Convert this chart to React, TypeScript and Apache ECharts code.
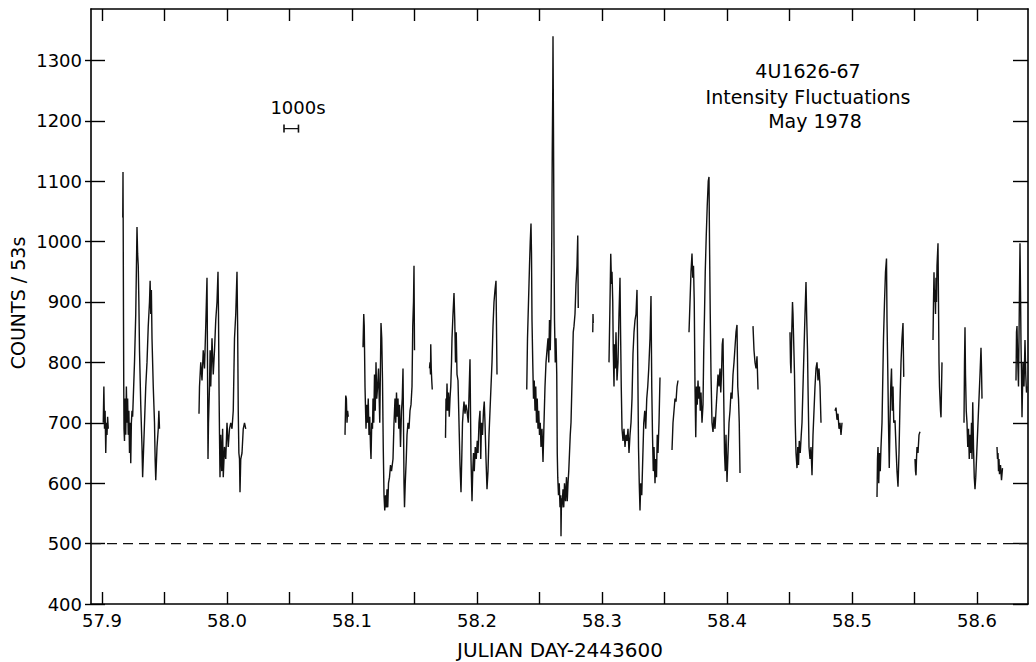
import React, { useEffect, useRef } from "react";
import * as echarts from "echarts";

// Axis extents and ticks
const xMin = 57.8912;
const xMax = 58.6408;
const yMin = 400;
const yMax = 1385;
const xTickValues = [57.9, 57.95, 58.0, 58.05, 58.1, 58.15, 58.2, 58.25, 58.3, 58.35, 58.4, 58.45, 58.5, 58.55, 58.6];
const xLabelValues = [57.9, 58.0, 58.1, 58.2, 58.3, 58.4, 58.5, 58.6];
const yTickValues = [400, 500, 600, 700, 800, 900, 1000, 1100, 1200, 1300];

// Background level (dashed)
const backgroundLevel = 500;

// Scale bar (1000 s)
const scaleBarStart = 58.0456;
const scaleBarSeconds = 1000;
const scaleBarLevel = 1187;

// Light-curve segments [JD-2443600, counts/53s]
const segA = [[57.901, 700], [57.9015, 760], [57.902, 690], [57.9025, 720], [57.903, 650], [57.9035, 700], [57.904, 680], [57.9045, 710], [57.905, 690]];
const segB = [[57.9166, 1040], [57.9168, 1115], [57.917, 1000], [57.9172, 870], [57.9174, 760], [57.9176, 690], [57.918, 670], [57.9185, 740], [57.919, 680], [57.9195, 760], [57.92, 700], [57.9205, 740], [57.921, 680], [57.9215, 720], [57.922, 650], [57.9225, 700], [57.923, 633], [57.9235, 700], [57.924, 720], [57.9245, 710], [57.925, 740], [57.926, 800], [57.927, 880], [57.928, 1024], [57.9285, 980], [57.929, 960], [57.9295, 900], [57.93, 820], [57.931, 730], [57.932, 660], [57.9325, 610], [57.933, 640], [57.934, 700], [57.935, 760], [57.936, 800], [57.937, 860], [57.938, 900], [57.9385, 935], [57.939, 880], [57.9395, 920], [57.94, 840], [57.941, 760], [57.942, 700], [57.9425, 640], [57.943, 605], [57.944, 660], [57.945, 690], [57.9455, 720], [57.946, 690]];
const segC = [[57.9776, 715], [57.978, 760], [57.979, 800], [57.98, 770], [57.981, 820], [57.982, 790], [57.983, 860], [57.9835, 900], [57.984, 940], [57.9842, 880], [57.9845, 760], [57.9848, 640], [57.9852, 700], [57.986, 760], [57.9865, 820], [57.987, 760], [57.988, 840], [57.989, 780], [57.99, 820], [57.991, 870], [57.992, 900], [57.9928, 950], [57.9932, 880], [57.9936, 760], [57.994, 680], [57.9944, 610], [57.995, 680], [57.9958, 620], [57.9965, 690], [57.997, 610], [57.998, 660], [57.999, 640], [58.0, 700], [58.001, 660], [58.002, 690], [58.003, 700], [58.004, 690], [58.005, 720], [58.006, 840], [58.007, 880], [58.008, 950], [58.0085, 860], [58.009, 720], [58.0095, 650], [58.01, 640], [58.0104, 585], [58.011, 640], [58.012, 650], [58.013, 690], [58.014, 700], [58.015, 690]];
const segD = [[58.0944, 680], [58.095, 745], [58.0955, 740], [58.096, 700], [58.0965, 720], [58.097, 710]];
const segE = [[58.1088, 825], [58.1094, 880], [58.1098, 860], [58.1104, 760], [58.1112, 690], [58.1118, 730], [58.1124, 700], [58.113, 740], [58.1136, 680], [58.1142, 710], [58.1148, 660], [58.1152, 640], [58.1158, 700], [58.1164, 690], [58.1168, 740], [58.1174, 700], [58.118, 780], [58.1186, 720], [58.1192, 800], [58.1198, 740], [58.1205, 760], [58.1212, 790], [58.1222, 700], [58.1232, 865], [58.1238, 840], [58.1244, 770], [58.125, 660], [58.1256, 580], [58.1262, 555], [58.1268, 580], [58.1274, 560], [58.128, 590], [58.1286, 560], [58.1292, 600], [58.13, 610], [58.1308, 630], [58.1316, 620], [58.1328, 640], [58.1336, 700], [58.1344, 740], [58.135, 700], [58.1356, 750], [58.1362, 710], [58.1368, 740], [58.1374, 690], [58.138, 730], [58.1388, 660], [58.1396, 720], [58.1402, 740], [58.1408, 790], [58.1412, 700], [58.1416, 600], [58.142, 560], [58.1426, 600], [58.1434, 640], [58.144, 680], [58.1448, 700], [58.1456, 690], [58.1464, 720], [58.1472, 730], [58.148, 760], [58.1486, 860], [58.1492, 900], [58.1496, 960], [58.15, 820]];
const segF = [[58.162, 790], [58.1624, 800], [58.1628, 780], [58.163, 830], [58.1634, 790], [58.1638, 770], [58.1642, 755]];
const segG = [[58.1748, 675], [58.1752, 740], [58.1756, 720], [58.176, 765], [58.1766, 720], [58.1772, 750], [58.1778, 710], [58.1784, 740], [58.179, 760], [58.1796, 800], [58.18, 840], [58.1808, 880], [58.1816, 915], [58.1822, 870], [58.1828, 800], [58.1834, 850], [58.184, 780], [58.1848, 770], [58.1856, 700], [58.1864, 630], [58.1872, 585], [58.1878, 640], [58.1884, 700], [58.189, 720], [58.1896, 735], [58.1904, 715], [58.1912, 730], [58.192, 720], [58.193, 700], [58.1938, 760], [58.1944, 805], [58.1948, 720], [58.1952, 640], [58.196, 570], [58.1966, 620], [58.1972, 650], [58.1978, 620], [58.1986, 660], [58.1994, 640], [58.2002, 670], [58.2008, 650], [58.2016, 700], [58.2024, 720], [58.203, 640], [58.2036, 700], [58.2044, 680], [58.2052, 720], [58.2058, 735], [58.2064, 700], [58.2072, 640], [58.208, 590], [58.2088, 620], [58.2096, 680], [58.2104, 720], [58.2112, 760], [58.212, 800], [58.2128, 860], [58.2136, 900], [58.2144, 920], [58.2152, 935], [58.216, 780]];
const segH = [[58.2398, 755], [58.2404, 840], [58.2412, 900], [58.242, 960], [58.2426, 1000], [58.2432, 1030], [58.2436, 980], [58.244, 870], [58.2446, 800], [58.2452, 740], [58.2458, 770], [58.2464, 720], [58.247, 760], [58.2476, 700], [58.2482, 740], [58.2488, 690], [58.2494, 720], [58.25, 680], [58.2506, 700], [58.2512, 660], [58.252, 690], [58.2528, 635], [58.2536, 700], [58.2544, 760], [58.2552, 800], [58.256, 820], [58.2568, 840], [58.2574, 800], [58.258, 870], [58.2586, 820], [58.2592, 880], [58.2598, 1000], [58.2602, 1150], [58.2606, 1250], [58.2608, 1340], [58.2612, 1180], [58.2616, 1000], [58.262, 870], [58.2626, 800], [58.2632, 840], [58.2638, 780], [58.2642, 650], [58.2646, 610], [58.2652, 580], [58.2658, 600], [58.2664, 560], [58.267, 580], [58.2672, 512], [58.2676, 575], [58.268, 560], [58.2688, 590], [58.2694, 560], [58.27, 600], [58.2708, 570], [58.2716, 610], [58.2722, 570], [58.2728, 600], [58.2734, 620], [58.274, 650], [58.2746, 680], [58.2752, 700], [58.2758, 750], [58.2764, 800], [58.277, 850], [58.2776, 860], [58.2784, 880], [58.2792, 930], [58.28, 960], [58.2806, 1010], [58.281, 890]];
const segI = [[58.2926, 850], [58.2928, 880], [58.293, 865]];
const segJ = [[58.3056, 800], [58.3064, 900], [58.307, 980], [58.3076, 930], [58.308, 950], [58.3086, 900], [58.309, 820], [58.3096, 760], [58.31, 830], [58.3106, 790], [58.3112, 850], [58.312, 770], [58.3128, 800], [58.3136, 880], [58.3144, 940], [58.3148, 860], [58.3154, 760], [58.316, 690], [58.3168, 670], [58.3176, 690], [58.3184, 660], [58.3192, 680], [58.32, 670], [58.3208, 690], [58.3216, 650], [58.3224, 680], [58.3232, 700], [58.324, 740], [58.3248, 815], [58.3256, 850], [58.3264, 870], [58.3272, 880], [58.328, 920], [58.3286, 800], [58.3292, 660], [58.3298, 600], [58.3304, 555], [58.331, 600], [58.3318, 580], [58.3326, 640], [58.3334, 700], [58.3342, 720], [58.335, 690], [58.3358, 740], [58.3366, 760], [58.3374, 790], [58.3384, 840], [58.3392, 910], [58.3398, 760], [58.3404, 680], [58.341, 620], [58.3416, 660], [58.3424, 600], [58.343, 640], [58.3436, 610], [58.3442, 680], [58.3448, 650], [58.3456, 700], [58.3464, 775]];
const segK = [[58.356, 655], [58.3568, 700], [58.3576, 720], [58.3584, 740], [58.3592, 735], [58.36, 760], [58.3608, 770]];
const segL = [[58.3696, 850], [58.3704, 900], [58.3712, 950], [58.372, 980], [58.3726, 940], [58.3732, 960], [58.3738, 900], [58.3744, 760], [58.375, 676], [58.3756, 760], [58.3762, 730], [58.3768, 770], [58.3774, 740], [58.378, 760], [58.3786, 720], [58.3792, 750], [58.38, 700], [58.3808, 730], [58.3814, 820], [58.382, 880], [58.3826, 950], [58.3834, 1010], [58.3842, 1060], [58.385, 1100], [58.3856, 1107], [58.386, 1000], [58.3866, 880], [58.3872, 780], [58.388, 700], [58.3888, 685], [58.3896, 710], [58.3904, 690], [58.3912, 720], [58.392, 750], [58.3928, 780], [58.3936, 760], [58.3944, 790], [58.395, 750], [58.3956, 780], [58.3962, 830], [58.3968, 840], [58.3974, 740], [58.398, 650], [58.3986, 620], [58.3992, 680], [58.4, 602], [58.4008, 650], [58.4016, 700], [58.4024, 720], [58.4032, 750], [58.404, 740], [58.4048, 780], [58.4056, 800], [58.4064, 825], [58.4072, 850], [58.408, 862], [58.4086, 760], [58.4092, 740], [58.4098, 700], [58.4104, 617]];
const segM = [[58.4208, 860], [58.4216, 820], [58.4224, 800], [58.4232, 790], [58.424, 810], [58.4248, 755]];
const segN = [[58.4504, 850], [58.4508, 800], [58.4512, 782], [58.4518, 850], [58.4524, 900], [58.4528, 880], [58.4534, 830], [58.454, 780], [58.4546, 700], [58.4552, 650], [58.456, 625], [58.4566, 660], [58.4572, 630], [58.4578, 670], [58.4586, 650], [58.4594, 680], [58.46, 700], [58.4608, 760], [58.4616, 820], [58.4624, 880], [58.4632, 933], [58.4638, 870], [58.4644, 820], [58.4648, 760], [58.4656, 660], [58.4664, 640], [58.4672, 660], [58.468, 613], [58.4688, 680], [58.4696, 720], [58.4704, 760], [58.4712, 790], [58.472, 800], [58.4728, 770], [58.4736, 790], [58.4744, 760], [58.4752, 700]];
const segO = [[58.4864, 720], [58.4872, 725], [58.488, 705], [58.4888, 715], [58.4896, 690], [58.4904, 700], [58.4912, 680], [58.492, 700]];
const segP = [[58.52, 577], [58.5204, 640], [58.5208, 660], [58.5214, 600], [58.522, 650], [58.5226, 620], [58.5232, 660], [58.524, 700], [58.5246, 770], [58.5252, 840], [58.526, 900], [58.5268, 950], [58.5276, 972], [58.528, 870], [58.5286, 790], [58.5292, 700], [58.5298, 625], [58.5304, 700], [58.531, 760], [58.5316, 790], [58.5322, 720], [58.5328, 760], [58.5334, 700], [58.5344, 704], [58.5352, 660], [58.536, 620], [58.5368, 594], [58.5376, 650], [58.5384, 733], [58.5392, 800], [58.54, 840], [58.5408, 865], [58.5414, 776]];
const segQ = [[58.5504, 640], [58.5508, 620], [58.5512, 613], [58.5516, 640], [58.552, 660], [58.5528, 650], [58.5536, 680], [58.5544, 685]];
const segR = [[58.5648, 837], [58.5652, 900], [58.5656, 949], [58.566, 900], [58.5664, 920], [58.5668, 880], [58.5672, 940], [58.5676, 900], [58.568, 960], [58.5688, 997], [58.5692, 900], [58.5696, 800], [58.57, 760], [58.5708, 720], [58.5712, 709], [58.572, 800]];
const segS = [[58.5896, 700], [58.59, 800], [58.5904, 858], [58.5908, 780], [58.5914, 720], [58.592, 700], [58.5926, 660], [58.5932, 690], [58.5938, 640], [58.5944, 680], [58.595, 650], [58.5956, 700], [58.596, 640], [58.5966, 734], [58.5972, 660], [58.5978, 610], [58.5984, 590], [58.599, 610], [58.5996, 640], [58.6, 660], [58.6008, 700], [58.6016, 740], [58.6024, 780], [58.6032, 824], [58.6036, 790], [58.604, 740]];
const segT = [[58.616, 660], [58.6164, 640], [58.6168, 650], [58.6172, 620], [58.6176, 640], [58.618, 615], [58.6188, 630], [58.6196, 605], [58.6204, 625]];
const segU = [[58.6312, 770], [58.6316, 850], [58.632, 860], [58.6326, 800], [58.6332, 760], [58.6338, 880], [58.6344, 997], [58.6348, 920], [58.6352, 830], [58.6356, 780], [58.636, 709], [58.6368, 800], [58.6376, 760], [58.6384, 837], [58.639, 780], [58.6396, 750], [58.64, 760]];

const segments = [segA, segB, segC, segD, segE, segF, segG, segH, segI, segJ, segK, segL, segM, segN, segO, segP, segQ, segR, segS, segT, segU];

const FONT = "DejaVu Sans";
const INK = "#111";

export default function App() {
  const ref = useRef<HTMLDivElement>(null);

  useEffect(() => {
    document.body.style.margin = "0";
    if (!ref.current) return;
    const chart = echarts.init(ref.current, undefined, { renderer: "svg" });

    const axisLine = { show: true, lineStyle: { color: "#000", width: 1.6 } };
    const tickLine = { color: "#000", width: 1.4 };

    const traceSeries = segments.map((seg) => ({
      type: "line",
      data: seg,
      xAxisIndex: 0,
      yAxisIndex: 0,
      showSymbol: false,
      symbol: "none",
      silent: true,
      lineStyle: { color: INK, width: 1.4 },
    }));

    const scaleBarEnd = scaleBarStart + scaleBarSeconds / 86400;

    chart.setOption({
      animation: false,
      backgroundColor: "#fff",
      grid: { left: 91, right: 8, top: 9, bottom: 58, outerBoundsMode: "none" },
      xAxis: [
        {
          type: "value",
          position: "bottom",
          min: xMin,
          max: xMax,
          axisLine,
          axisTick: { show: true, inside: true, length: 12, customValues: xTickValues, lineStyle: tickLine },
          axisLabel: {
            customValues: xLabelValues,
            formatter: (v: number) => v.toFixed(1),
            fontSize: 18,
            fontFamily: FONT,
            color: "#000",
            margin: 7,
          },
          splitLine: { show: false },
        },
        {
          type: "value",
          position: "top",
          min: xMin,
          max: xMax,
          axisLine,
          axisTick: { show: true, inside: true, length: 12, customValues: xTickValues, lineStyle: tickLine },
          axisLabel: { show: false },
          splitLine: { show: false },
        },
      ],
      yAxis: [
        {
          type: "value",
          position: "left",
          min: yMin,
          max: yMax,
          axisLine,
          axisTick: { show: true, inside: true, length: 14, customValues: yTickValues, lineStyle: tickLine },
          axisLabel: {
            customValues: yTickValues,
            formatter: (v: number) => String(Math.round(v)),
            fontSize: 18,
            fontFamily: FONT,
            color: "#000",
            margin: 9,
          },
          splitLine: { show: false },
        },
        {
          type: "value",
          position: "left",
          min: yMin,
          max: yMax,
          axisLine: { show: false },
          axisTick: { show: true, inside: false, length: 6, customValues: yTickValues, lineStyle: tickLine },
          axisLabel: { show: false },
          splitLine: { show: false },
        },
        {
          type: "value",
          position: "right",
          min: yMin,
          max: yMax,
          axisLine,
          axisTick: { show: true, inside: true, length: 15, customValues: yTickValues, lineStyle: tickLine },
          axisLabel: { show: false },
          splitLine: { show: false },
        },
      ],
      series: [
        {
          type: "line",
          data: [[xMin, backgroundLevel], [xMax, backgroundLevel]],
          showSymbol: false,
          symbol: "none",
          silent: true,
          lineStyle: { color: INK, width: 1.4, type: [10, 6] },
        },
        {
          type: "line",
          data: [[scaleBarStart, scaleBarLevel], [scaleBarEnd, scaleBarLevel]],
          showSymbol: true,
          symbol: "rect",
          symbolSize: [1.6, 8],
          itemStyle: { color: INK },
          silent: true,
          lineStyle: { color: INK, width: 1.4 },
        },
        ...traceSeries,
      ],
      graphic: [
        {
          type: "text",
          x: 18,
          y: 303,
          rotation: Math.PI / 2,
          style: { text: "COUNTS / 53s", fontSize: 19, fontFamily: FONT, fill: "#000", align: "center", verticalAlign: "middle" },
        },
        {
          type: "text",
          x: 560,
          y: 650,
          style: { text: "JULIAN DAY-2443600", fontSize: 20, fontFamily: FONT, fill: "#000", align: "center", verticalAlign: "middle" },
        },
        {
          type: "text",
          x: 298,
          y: 107,
          style: { text: "1000s", fontSize: 18, fontFamily: FONT, fill: "#000", align: "center", verticalAlign: "middle" },
        },
        {
          type: "text",
          x: 808,
          y: 71,
          style: { text: "4U1626-67", fontSize: 19, fontFamily: FONT, fill: "#000", align: "center", verticalAlign: "middle" },
        },
        {
          type: "text",
          x: 808,
          y: 97,
          style: { text: "Intensity Fluctuations", fontSize: 19, fontFamily: FONT, fill: "#000", align: "center", verticalAlign: "middle" },
        },
        {
          type: "text",
          x: 815,
          y: 121,
          style: { text: "May 1978", fontSize: 19, fontFamily: FONT, fill: "#000", align: "center", verticalAlign: "middle" },
        },
      ],
    });

    return () => chart.dispose();
  }, []);

  return <div ref={ref} style={{ width: 1036, height: 662 }} />;
}
